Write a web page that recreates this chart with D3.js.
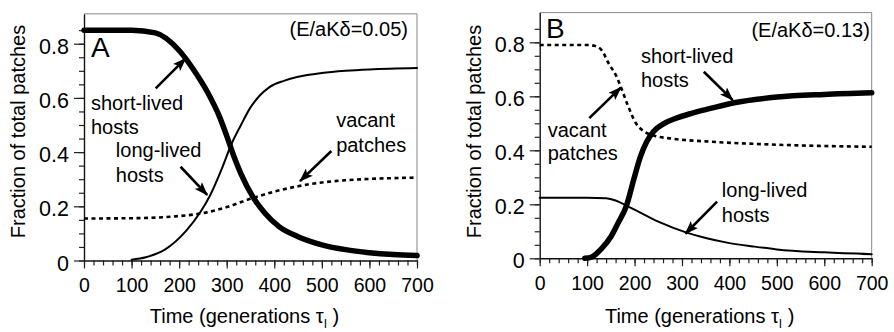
<!DOCTYPE html>
<html>
<head>
<meta charset="utf-8">
<script src="https://cdn.jsdelivr.net/npm/d3@7"></script>
<style>
body { margin: 0; background: #fff; }
text { font-family: "Liberation Sans", Arial, Helvetica, sans-serif; fill: #000; }
</style>
</head>
<body>
<div id="chart"></div>
<script>
// axis ticks
var xMajor = [0, 100, 200, 300, 400, 500, 600, 700];
var yMajor = [0, 0.2, 0.4, 0.6, 0.8];
var yLabels = ["0", "0.2", "0.4", "0.6", "0.8"];

// panel A (E/aKd = 0.05)
var aShortT = [0, 100, 150, 200, 230, 260, 285, 300, 315, 330, 355, 380, 410, 450, 500, 550, 600, 650, 700];
var aShortV = [0.85, 0.85, 0.84, 0.775, 0.705, 0.62, 0.53, 0.46, 0.385, 0.32, 0.235, 0.175, 0.125, 0.088, 0.058, 0.04, 0.029, 0.022, 0.018];
var aLongT = [100, 130, 170, 215, 245, 265, 290, 310, 330, 350, 370, 390, 420, 450, 500, 550, 600, 700];
var aLongV = [0.003, 0.012, 0.04, 0.11, 0.18, 0.24, 0.34, 0.43, 0.5, 0.565, 0.61, 0.64, 0.663, 0.678, 0.692, 0.7, 0.705, 0.71];
var aVacT = [0, 100, 200, 250, 300, 350, 400, 450, 500, 550, 600, 650, 700];
var aVacV = [0.155, 0.156, 0.164, 0.175, 0.197, 0.228, 0.254, 0.274, 0.288, 0.296, 0.301, 0.304, 0.306];

// panel B (E/aKd = 0.13)
var bShortT = [95, 110, 130, 150, 165, 183, 198, 212, 225, 240, 260, 285, 320, 360, 410, 500, 600, 700];
var bShortV = [0, 0.005, 0.035, 0.08, 0.13, 0.195, 0.29, 0.375, 0.43, 0.47, 0.497, 0.517, 0.537, 0.555, 0.576, 0.597, 0.607, 0.613];
var bLongT = [0, 100, 140, 160, 184, 220, 255, 310, 350, 395, 450, 500, 600, 700];
var bLongV = [0.224, 0.224, 0.222, 0.214, 0.194, 0.162, 0.132, 0.095, 0.075, 0.058, 0.044, 0.033, 0.022, 0.015];
var bVacT = [0, 100, 115, 130, 146, 160, 171, 185, 203, 220, 240, 280, 350, 450, 550, 700];
var bVacV = [0.79, 0.79, 0.787, 0.772, 0.72, 0.68, 0.635, 0.57, 0.5, 0.47, 0.455, 0.443, 0.433, 0.424, 0.418, 0.413];

var svgW = 894, svgH = 332;
var svg = d3.select("#chart").append("svg")
    .attr("width", svgW)
    .attr("height", svgH);

// arrowhead
svg.append("defs").append("marker")
    .attr("id", "arrow")
    .attr("markerUnits", "userSpaceOnUse")
    .attr("viewBox", "0 0 14 10")
    .attr("refX", 13)
    .attr("refY", 5)
    .attr("markerWidth", 14)
    .attr("markerHeight", 10)
    .attr("orient", "auto")
    .append("path")
    .attr("d", "M0,0 L14,5 L0,10 L3,5 Z")
    .attr("fill", "#000");

function drawPanel(p) {
    var x = d3.scaleLinear().domain([0, 700]).range([p.left, p.right]);
    var y = d3.scaleLinear().domain([0, 0.91]).range([p.bottom, p.top]);
    var g = svg.append("g");

    // frame top / right (thin grey)
    g.append("line").attr("x1", p.left).attr("x2", p.right).attr("y1", p.top).attr("y2", p.top)
        .attr("stroke", "#888").attr("stroke-width", 1);
    g.append("line").attr("x1", p.right).attr("x2", p.right).attr("y1", p.top).attr("y2", p.bottom)
        .attr("stroke", "#888").attr("stroke-width", 1);

    // minor ticks
    g.append("g").attr("transform", "translate(0," + p.bottom + ")")
        .call(d3.axisBottom(x).tickValues(d3.range(0, 701, 20)).tickSize(5).tickFormat(""))
        .call(function(s) { s.select(".domain").remove(); });
    g.append("g").attr("transform", "translate(" + p.left + ",0)")
        .call(d3.axisLeft(y).tickValues(d3.range(0, 0.86, 0.05)).tickSize(5).tickFormat(""))
        .call(function(s) { s.select(".domain").remove(); });

    // major axes
    var xa = g.append("g").attr("transform", "translate(0," + p.bottom + ")")
        .call(d3.axisBottom(x).tickValues(xMajor).tickSize(8).tickPadding(10).tickSizeOuter(0));
    xa.selectAll("text").attr("font-size", 19.5).attr("font-family", null);
    var ya = g.append("g").attr("transform", "translate(" + p.left + ",0)")
        .call(d3.axisLeft(y).tickValues(yMajor).tickSize(10).tickPadding(5)
            .tickFormat(function(d, i) { return yLabels[i]; }).tickSizeOuter(0));
    ya.selectAll("text").attr("font-size", 21.5).attr("font-family", null).attr("dy", "0.45em");
    g.selectAll(".tick line").attr("stroke", "#222").attr("stroke-width", 1.2);
    g.selectAll(".domain").attr("stroke", "#111").attr("stroke-width", 1.4);

    // axis titles
    var xt = g.append("text")
        .attr("x", (p.left + p.right) / 2 - 6)
        .attr("y", 322.5)
        .attr("text-anchor", "middle")
        .attr("font-size", 20);
    xt.append("tspan").text("Time (generations \u03C4");
    xt.append("tspan").attr("font-size", 12).attr("dy", 5).text("I");
    xt.append("tspan").attr("dy", -5).text(" )");

    g.append("text")
        .attr("transform", "translate(" + p.yTitleX + ",131.5) rotate(-90)")
        .attr("text-anchor", "middle")
        .attr("font-size", 20)
        .text("Fraction of total patches");

    // curves
    var line = d3.line()
        .x(function(d) { return x(d[0]); })
        .y(function(d) { return y(d[1]); })
        .curve(d3.curveMonotoneX);
    p.series.forEach(function(s) {
        g.append("path")
            .datum(d3.zip(s.t, s.v))
            .attr("d", line)
            .attr("fill", "none")
            .attr("stroke", "#000")
            .attr("stroke-width", s.w)
            .attr("stroke-dasharray", s.dash || null)
            .attr("stroke-linecap", s.dash ? "butt" : "round");
    });

    // annotations (positions in data units)
    p.labels.forEach(function(l) {
        g.append("text")
            .attr("x", x(l[0]))
            .attr("y", y(l[1]))
            .attr("font-size", l[3] || 20)
            .attr("text-anchor", l[4] || "start")
            .text(l[2]);
    });
    p.arrows.forEach(function(a) {
        g.append("line")
            .attr("x1", x(a[0])).attr("y1", y(a[1]))
            .attr("x2", x(a[2])).attr("y2", y(a[3]))
            .attr("stroke", "#000")
            .attr("stroke-width", 2.6)
            .attr("marker-end", "url(#arrow)");
    });
}

drawPanel({
    left: 84, right: 417, top: 13.9, bottom: 260.5, yTitleX: 24.5,
    series: [
        { t: aVacT, v: aVacV, w: 2.6, dash: "4,3.5" },
        { t: aLongT, v: aLongV, w: 2 },
        { t: aShortT, v: aShortV, w: 5.5 }
    ],
    labels: [
        [14.7, 0.75, "A", 28],
        [681, 0.828, "(E/aK\u03B4=0.05)", 20, "end"],
        [14.7, 0.555, "short-lived"],
        [14.7, 0.467, "hosts"],
        [67, 0.382, "long-lived"],
        [67, 0.29, "hosts"],
        [530, 0.493, "vacant"],
        [530, 0.40, "patches"]
    ],
    arrows: [
        [150.7, 0.635, 213.8, 0.746],
        [203, 0.346, 259, 0.242],
        [520, 0.404, 454, 0.293]
    ]
});

drawPanel({
    left: 539.7, right: 871.7, top: 12.6, bottom: 258.3, yTitleX: 480.5,
    series: [
        { t: bVacT, v: bVacV, w: 2.6, dash: "4,3.5" },
        { t: bLongT, v: bLongV, w: 2 },
        { t: bShortT, v: bShortV, w: 5.5 }
    ],
    labels: [
        [13.3, 0.816, "B", 28],
        [696, 0.82, "(E/aK\u03B4=0.13)", 20, "end"],
        [213.6, 0.722, "short-lived"],
        [213.6, 0.633, "hosts"],
        [16.9, 0.45, "vacant"],
        [16.9, 0.364, "patches"],
        [384, 0.227, "long-lived"],
        [384, 0.134, "hosts"]
    ],
    arrows: [
        [346, 0.691, 407, 0.586],
        [104.6, 0.519, 171.4, 0.633],
        [374, 0.21, 307, 0.091]
    ]
});
</script>
</body>
</html>
